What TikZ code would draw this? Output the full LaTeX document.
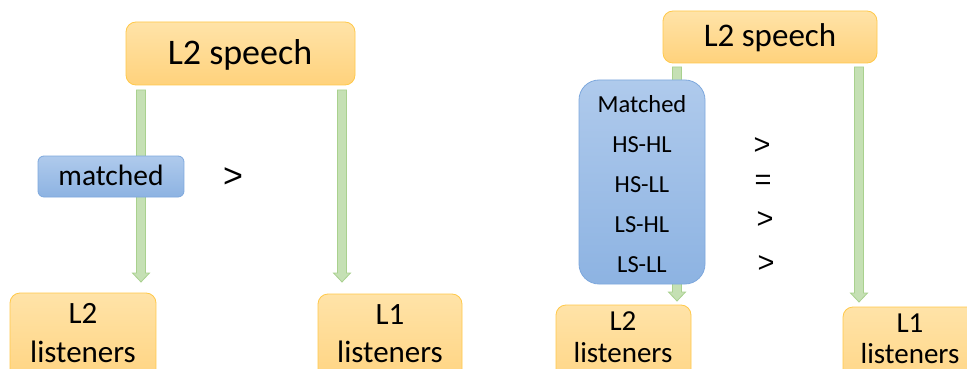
\documentclass[tikz,border=0pt]{standalone}
\usepackage{fontspec}
\setmainfont{Carlito}
\newfontfamily\symfont{Liberation Sans}
\usetikzlibrary{calc}
\definecolor{ofillT}{HTML}{FFE3A8}
\definecolor{ofillB}{HTML}{FFD27C}
\definecolor{oline}{HTML}{FFC94A}
\definecolor{bfillT}{HTML}{AFCAEC}
\definecolor{bfillB}{HTML}{8DB3E2}
\definecolor{bline}{HTML}{7EA8DD}
\definecolor{gfill}{HTML}{C5E0B4}
\definecolor{gline}{HTML}{A9D18E}
\tikzset{
  obox/.style={draw=oline, line width=0.8pt, top color=ofillT, bottom color=ofillB, rounded corners=10pt, inner sep=0pt},
  bbox/.style={draw=bline, line width=0.8pt, top color=bfillT, bottom color=bfillB, rounded corners=#1, inner sep=0pt},
  bbox/.default=6pt,
  txt/.style={anchor=base, inner sep=0pt, text=black, font=\fontsize{#1}{#1}\selectfont},
  sym/.style={anchor=center, inner sep=0pt, text=black, font=\symfont\fontsize{#1}{#1}\selectfont},
  garrow/.style={draw=gline, fill=gfill, line width=0.8pt, line join=miter},
}
\newcommand\myarrow[2]{%
  \draw[garrow] let \p1=(#1), \p2=(#2) in
    (\x1-4.5pt,\y1) -- (\x1-4.5pt,\y2+9pt) -- (\x1-8.5pt,\y2+9pt) -- (\x1,\y2)
    -- (\x1+8.5pt,\y2+9pt) -- (\x1+4.5pt,\y2+9pt) -- (\x1+4.5pt,\y1) -- cycle;}
\begin{document}
\begin{tikzpicture}[x=1pt,y=-1pt]
\useasboundingbox (0,0) rectangle (967,369);
\clip (0,0) rectangle (967,369);
\fill[white] (0,0) rectangle (967,369);
% ---------- left panel ----------
\node[obox, minimum width=229pt, minimum height=63pt] (sp1) at (240.5,53.5) {};
\node[txt=36] (sp1t) at (240,65) {L2 speech};
\coordinate (a1s) at (141,90);
\coordinate (a1e) at (141,282);
\coordinate (a2s) at (342,90);
\coordinate (a2e) at (342,282);
\myarrow{a1s}{a1e}
\myarrow{a2s}{a2e}
\node[bbox, minimum width=146pt, minimum height=41pt] (m1) at (111,176.5) {};
\node[txt=29.5] (m1t) at (111,185) {matched};
\node[sym=34] (gt1) at (233,178) {>};
\node[obox, minimum width=146pt, minimum height=100pt] (l2a) at (83,343) {};
\node[txt=31] (l2at1) at (83,323) {L2};
\node[txt=31] (l2at2) at (83,362) {listeners};
\node[obox, minimum width=144pt, minimum height=100pt] (l1a) at (390,344) {};
\node[txt=31] (l1at1) at (390,324) {L1};
\node[txt=31] (l1at2) at (390,362) {listeners};
% ---------- right panel ----------
\node[obox, minimum width=214pt, minimum height=52pt] (sp2) at (770,37) {};
\node[txt=33] (sp2t) at (770,47) {L2 speech};
\coordinate (a3s) at (677,67);
\coordinate (a3e) at (677,301);
\coordinate (a4s) at (859,67);
\coordinate (a4e) at (859,302);
\myarrow{a3s}{a3e}
\myarrow{a4s}{a4e}
\node[bbox=20pt, minimum width=126pt, minimum height=204pt] (m2) at (642,182) {};
\node[txt=24.5] (m2t0) at (642,112) {Matched};
\node[txt=24.5] (m2t1) at (642,152) {HS-HL};
\node[txt=24.5] (m2t2) at (642,192) {HS-LL};
\node[txt=24.5] (m2t3) at (642,232) {LS-HL};
\node[txt=24.5] (m2t4) at (642,272) {LS-LL};
\node[sym=29] (gt2) at (762,146) {>};
\node[sym=29] (eq2) at (763,182) {=};
\node[sym=29] (gt3) at (765,220) {>};
\node[sym=29] (gt4) at (766,264) {>};
\node[obox, minimum width=135pt, minimum height=100pt] (l2b) at (623.5,355) {};
\node[txt=29] (l2bt1) at (623,330) {L2};
\node[txt=29] (l2bt2) at (623,362) {listeners};
\node[obox, minimum width=140pt, minimum height=100pt] (l1b) at (913,357) {};
\node[txt=29] (l1bt1) at (910,332) {L1};
\node[txt=29] (l1bt2) at (910,363) {listeners};
\end{tikzpicture}
\end{document}
